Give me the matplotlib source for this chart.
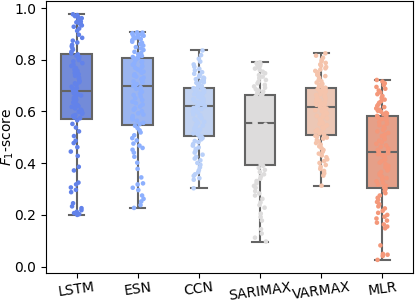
import numpy as np
import pandas as pd
import matplotlib
matplotlib.use("Agg")
import matplotlib.pyplot as plt
import seaborn as sns

models = ["LSTM", "ESN", "CCN", "SARIMAX", "VARMAX", "MLR"]

lstm = [0.200, 0.203, 0.207, 0.212, 0.218, 0.226, 0.233, 0.245, 0.288, 0.297, 0.306, 0.318, 0.325,
        0.372, 0.386, 0.428, 0.445, 0.462, 0.478, 0.487, 0.505, 0.523, 0.538, 0.552, 0.566,
        0.574, 0.577, 0.583, 0.586, 0.591, 0.594, 0.599, 0.603, 0.607, 0.612, 0.618, 0.621, 0.626,
        0.630, 0.635, 0.641, 0.645, 0.648, 0.653, 0.659, 0.662, 0.667, 0.670, 0.674, 0.678,
        0.681, 0.687, 0.690, 0.696, 0.702, 0.709, 0.713, 0.718, 0.726, 0.731, 0.738, 0.744, 0.749,
        0.757, 0.762, 0.768, 0.776, 0.781, 0.787, 0.794, 0.799, 0.806, 0.811, 0.816, 0.821,
        0.825, 0.831, 0.839, 0.846, 0.852, 0.858, 0.867, 0.874, 0.885, 0.897, 0.912, 0.921, 0.928,
        0.933, 0.938, 0.941, 0.945, 0.948, 0.952, 0.957, 0.961, 0.965, 0.969, 0.973, 0.976]
esn = [0.227, 0.238, 0.252, 0.262, 0.275, 0.296, 0.305, 0.318, 0.322, 0.345, 0.378, 0.402, 0.425,
       0.441, 0.452, 0.459, 0.468, 0.476, 0.488, 0.497, 0.508, 0.519, 0.527, 0.536, 0.545,
       0.551, 0.556, 0.564, 0.569, 0.575, 0.582, 0.588, 0.593, 0.601, 0.607, 0.612, 0.619, 0.627,
       0.632, 0.638, 0.644, 0.651, 0.658, 0.664, 0.669, 0.676, 0.683, 0.688, 0.694, 0.699,
       0.702, 0.706, 0.712, 0.716, 0.720, 0.725, 0.731, 0.735, 0.739, 0.744, 0.750, 0.754, 0.757,
       0.763, 0.769, 0.772, 0.776, 0.781, 0.787, 0.790, 0.794, 0.799, 0.803, 0.806, 0.808,
       0.811, 0.815, 0.821, 0.826, 0.831, 0.838, 0.844, 0.849, 0.855, 0.861, 0.866, 0.870, 0.876,
       0.880, 0.884, 0.887, 0.890, 0.893, 0.895, 0.897, 0.899, 0.901, 0.903, 0.905, 0.906]
ccn = [0.303, 0.336, 0.342, 0.351, 0.357, 0.365, 0.373, 0.384, 0.394, 0.401, 0.411, 0.418, 0.425,
       0.433, 0.441, 0.447, 0.455, 0.461, 0.468, 0.474, 0.481, 0.486, 0.492, 0.497, 0.501,
       0.505, 0.511, 0.515, 0.519, 0.526, 0.530, 0.534, 0.541, 0.545, 0.549, 0.556, 0.560, 0.566,
       0.570, 0.574, 0.581, 0.585, 0.589, 0.596, 0.600, 0.604, 0.610, 0.614, 0.617, 0.620,
       0.622, 0.625, 0.629, 0.631, 0.634, 0.638, 0.640, 0.643, 0.647, 0.649, 0.652, 0.656, 0.658,
       0.661, 0.665, 0.667, 0.670, 0.674, 0.676, 0.679, 0.683, 0.685, 0.688, 0.690, 0.692,
       0.695, 0.698, 0.702, 0.704, 0.707, 0.711, 0.713, 0.716, 0.720, 0.722, 0.725, 0.729, 0.731,
       0.735, 0.741, 0.746, 0.752, 0.759, 0.765, 0.773, 0.782, 0.793, 0.804, 0.818, 0.836]
sarimax = [0.097, 0.112, 0.128, 0.145, 0.178, 0.192, 0.205, 0.228, 0.238, 0.248, 0.262, 0.275, 0.283,
           0.292, 0.305, 0.312, 0.322, 0.331, 0.340, 0.349, 0.357, 0.366, 0.374, 0.382, 0.390,
           0.396, 0.403, 0.411, 0.417, 0.424, 0.432, 0.438, 0.445, 0.453, 0.459, 0.466, 0.474, 0.480,
           0.487, 0.495, 0.501, 0.508, 0.515, 0.521, 0.527, 0.534, 0.539, 0.544, 0.549, 0.553,
           0.556, 0.561, 0.567, 0.571, 0.576, 0.582, 0.586, 0.591, 0.597, 0.601, 0.606, 0.612, 0.616,
           0.621, 0.627, 0.631, 0.636, 0.641, 0.645, 0.649, 0.653, 0.657, 0.660, 0.662, 0.664,
           0.667, 0.670, 0.674, 0.677, 0.681, 0.686, 0.692, 0.697, 0.703, 0.709, 0.716, 0.722, 0.729,
           0.735, 0.741, 0.748, 0.754, 0.760, 0.766, 0.771, 0.776, 0.780, 0.784, 0.787, 0.790]
varmax = [0.313, 0.352, 0.361, 0.370, 0.378, 0.386, 0.393, 0.401, 0.408, 0.415, 0.423, 0.430, 0.437,
          0.444, 0.451, 0.458, 0.465, 0.472, 0.478, 0.484, 0.490, 0.495, 0.499, 0.503, 0.506,
          0.510, 0.515, 0.520, 0.524, 0.529, 0.534, 0.538, 0.543, 0.547, 0.552, 0.556, 0.561, 0.565,
          0.570, 0.574, 0.579, 0.583, 0.588, 0.592, 0.597, 0.601, 0.605, 0.609, 0.612, 0.614,
          0.617, 0.620, 0.623, 0.626, 0.629, 0.632, 0.635, 0.638, 0.641, 0.645, 0.648, 0.651, 0.654,
          0.657, 0.660, 0.664, 0.667, 0.670, 0.674, 0.677, 0.680, 0.684, 0.687, 0.690, 0.692,
          0.695, 0.699, 0.703, 0.707, 0.712, 0.717, 0.722, 0.727, 0.732, 0.737, 0.742, 0.747, 0.752,
          0.757, 0.762, 0.767, 0.772, 0.777, 0.782, 0.788, 0.794, 0.800, 0.808, 0.816, 0.825]
mlr = [0.026, 0.041, 0.046, 0.049, 0.082, 0.148, 0.155, 0.163, 0.170, 0.178, 0.186, 0.193, 0.200,
       0.208, 0.216, 0.225, 0.233, 0.241, 0.250, 0.258, 0.266, 0.275, 0.284, 0.292, 0.300,
       0.306, 0.312, 0.318, 0.324, 0.330, 0.336, 0.342, 0.348, 0.354, 0.360, 0.366, 0.372, 0.378,
       0.384, 0.390, 0.396, 0.402, 0.408, 0.414, 0.420, 0.425, 0.430, 0.435, 0.439, 0.442,
       0.445, 0.451, 0.457, 0.463, 0.469, 0.475, 0.481, 0.487, 0.493, 0.499, 0.505, 0.511, 0.517,
       0.523, 0.529, 0.535, 0.541, 0.547, 0.553, 0.559, 0.565, 0.571, 0.576, 0.580, 0.583,
       0.586, 0.589, 0.592, 0.595, 0.599, 0.603, 0.607, 0.612, 0.617, 0.622, 0.628, 0.634, 0.640,
       0.646, 0.653, 0.660, 0.667, 0.674, 0.681, 0.688, 0.695, 0.702, 0.709, 0.716, 0.722]

scores = [lstm, esn, ccn, sarimax, varmax, mlr]
df = pd.DataFrame({
    "model": np.repeat(models, [len(s) for s in scores]),
    "f1": np.concatenate(scores),
})

palette = sns.color_palette("coolwarm", 7)[:6]

fig, ax = plt.subplots(figsize=(4.15, 3.02), dpi=100)
fig.subplots_adjust(left=0.111, right=0.995, bottom=0.095, top=0.998)

sns.boxplot(data=df, x="model", y="f1", hue="model", palette=palette, width=0.5,
            showfliers=False, linewidth=1.5, legend=False, ax=ax)
np.random.seed(3)
sns.stripplot(data=df, x="model", y="f1", hue="model", palette=palette, size=3.3,
              jitter=0.1, legend=False, ax=ax)

ax.set_ylim(-0.026, 1.029)
ax.set_xlim(-0.5, 5.5)
ax.set_xlabel("")
ax.set_ylabel("$F_1$-score")
ax.yaxis.set_label_coords(-0.083, 0.5)
ax.tick_params(axis="x", pad=1.5)
plt.setp(ax.get_xticklabels(), rotation=8)

plt.savefig("out.png")
